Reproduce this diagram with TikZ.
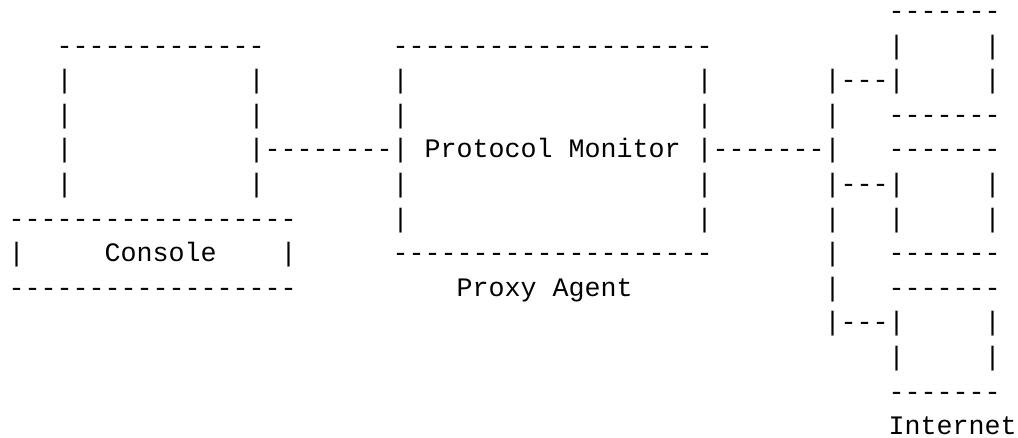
\documentclass[tikz,border=0pt]{standalone}
\usepackage{fontspec}
\setmonofont{Liberation Mono}
% blank run of #1 character cells in the current monospaced font
\newcommand\gap[1]{\hspace*{\dimexpr#1\fontcharwd\font`M\relax}}
\begin{document}
\begin{tikzpicture}[x=8pt,y=-17.3pt,
  rowtext/.style={anchor=base west,inner sep=0pt,outer sep=0pt,
    font=\ttfamily\fontsize{13.33}{16}\selectfont}]
  \fill[white] (0,0) rectangle (63.625,12.659);
  \useasboundingbox (0,0) rectangle (63.625,12.659);
  % one node per line of the character diagram
  \node[rowtext] (row0)  at (0.544,0.566)  {\gap{55}-------};
  \node[rowtext] (row1)  at (0.544,1.566)  {\gap{3}-------------\gap{8}--------------------\gap{11}|\gap{5}|};
  \node[rowtext] (row2)  at (0.544,2.566)  {\gap{3}|\gap{11}|\gap{8}|\gap{18}|\gap{7}|---|\gap{5}|};
  \node[rowtext] (row3)  at (0.544,3.566)  {\gap{3}|\gap{11}|\gap{8}|\gap{18}|\gap{7}|\gap{3}-------};
  \node[rowtext] (row4)  at (0.544,4.566)  {\gap{3}|\gap{11}|--------|\gap{1}Protocol\gap{1}Monitor\gap{1}|-------|\gap{3}-------};
  \node[rowtext] (row5)  at (0.544,5.566)  {\gap{3}|\gap{11}|\gap{8}|\gap{18}|\gap{7}|---|\gap{5}|};
  \node[rowtext] (row6)  at (0.544,6.566)  {------------------\gap{6}|\gap{18}|\gap{7}|\gap{3}|\gap{5}|};
  \node[rowtext] (row7)  at (0.544,7.566)  {|\gap{5}Console\gap{4}|\gap{6}--------------------\gap{7}|\gap{3}-------};
  \node[rowtext] (row8)  at (0.544,8.566)  {------------------\gap{10}Proxy\gap{1}Agent\gap{12}|\gap{3}-------};
  \node[rowtext] (row9)  at (0.544,9.566)  {\gap{51}|---|\gap{5}|};
  \node[rowtext] (row10) at (0.544,10.566) {\gap{55}|\gap{5}|};
  \node[rowtext] (row11) at (0.544,11.566) {\gap{55}-------};
  \node[rowtext] (row12) at (0.544,12.566) {\gap{55}Internet};
\end{tikzpicture}
\end{document}
